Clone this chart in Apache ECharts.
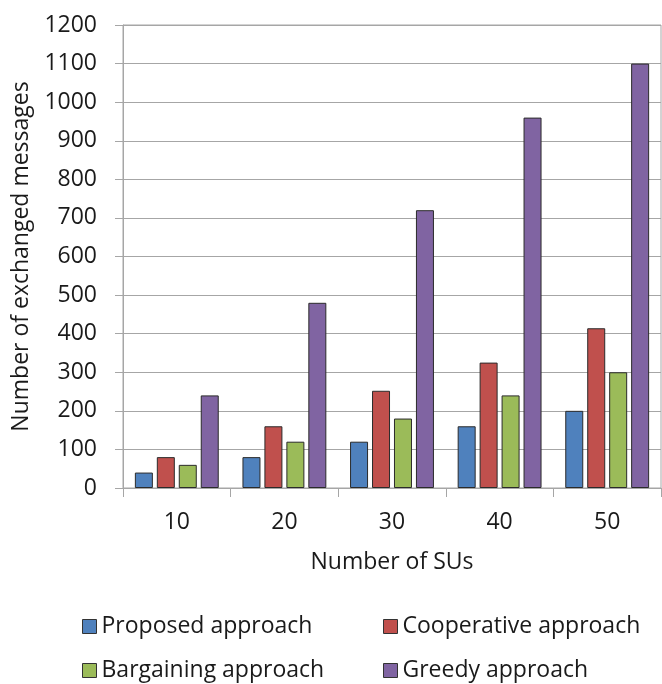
<!DOCTYPE html>
<html>
<head>
<meta charset="utf-8">
<script src="https://cdn.jsdelivr.net/npm/echarts@6/dist/echarts.min.js"></script>
<style>
  html, body { margin: 0; padding: 0; background: #fff; }
  #chart { width: 662px; height: 684px; }
</style>
</head>
<body>
<div id="chart"></div>
<script>
// Number of SUs on the x axis
const categories = ['10', '20', '30', '40', '50'];

// Exchanged messages per approach
const proposed = [40, 80, 120, 160, 200];
const cooperative = [80, 160, 252, 325, 414];
const bargaining = [60, 120, 180, 240, 300];
const greedy = [240, 480, 720, 960, 1100];

const seriesNames = ['Proposed approach', 'Cooperative approach', 'Bargaining approach', 'Greedy approach'];
const seriesColors = ['#4F81BD', '#C0504D', '#9BBB59', '#8064A2'];
const seriesData = [proposed, cooperative, bargaining, greedy];

const FONT = 'Open Sans';
const TEXT = '#1a1a1a';
const FS = 23;

const chart = echarts.init(document.getElementById('chart'), null, { renderer: 'canvas' });

const legendPos = [
  { left: 77, top: 610 },
  { left: 378, top: 610 },
  { left: 77, top: 654 },
  { left: 378, top: 654 }
];

chart.setOption({
  animation: false,
  backgroundColor: '#fff',
  textStyle: { fontFamily: FONT, color: TEXT },
  grid: {
    left: 123, right: 1, top: 25, bottom: 196,
    show: true, borderColor: '#A6A6A6', borderWidth: 1
  },
  legend: seriesNames.map((n, i) => ({
    data: [n],
    left: legendPos[i].left,
    top: legendPos[i].top,
    itemWidth: 14, itemHeight: 14, itemGap: 4,
    icon: 'rect',
    textStyle: { fontFamily: FONT, fontSize: FS, color: TEXT, padding: [0, 0, 0, 0] },
    itemStyle: { borderColor: '#333', borderWidth: 1 }
  })),
  xAxis: {
    type: 'category',
    data: categories,
    name: 'Number of SUs',
    nameLocation: 'middle',
    nameGap: 63,
    nameTextStyle: { fontFamily: FONT, fontSize: FS, color: TEXT },
    axisLine: { lineStyle: { color: '#A6A6A6', width: 1 } },
    axisTick: { show: true, length: 9, alignWithLabel: false, lineStyle: { color: '#A6A6A6' } },
    axisLabel: { fontFamily: FONT, fontSize: FS, color: TEXT, margin: 23 }
  },
  yAxis: {
    type: 'value',
    min: 0, max: 1200, interval: 100,
    name: 'Number of exchanged messages',
    nameLocation: 'middle',
    nameGap: 90,
    nameTextStyle: { fontFamily: FONT, fontSize: FS, color: TEXT },
    axisLine: { show: true, lineStyle: { color: '#A6A6A6', width: 1 } },
    axisTick: { show: true, length: 8, lineStyle: { color: '#A6A6A6' } },
    axisLabel: {
      fontFamily: FONT, fontSize: FS, color: TEXT, margin: 26,
      formatter: (v) => String(v)
    },
    splitLine: { show: true, lineStyle: { color: '#A6A6A6', width: 1 } }
  },
  series: seriesNames.map((n, i) => ({
    name: n,
    type: 'bar',
    data: seriesData[i],
    barWidth: 18,
    barGap: '22%',
    itemStyle: { color: seriesColors[i], borderColor: '#2b2b2b', borderWidth: 1 }
  }))
});
</script>
</body>
</html>
